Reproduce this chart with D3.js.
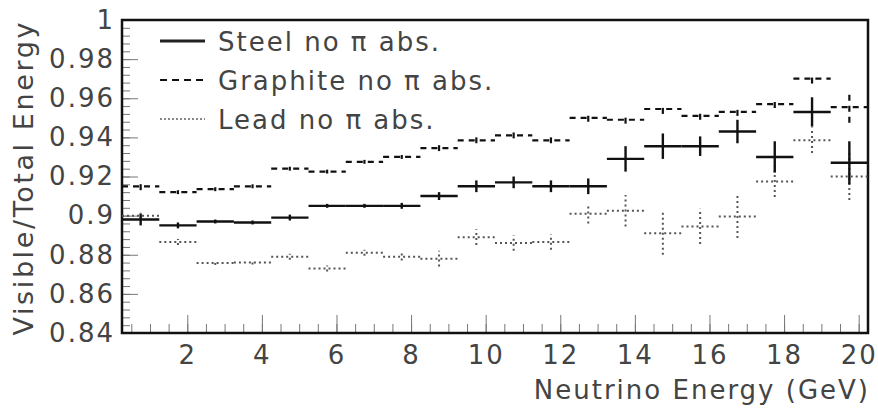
<!DOCTYPE html>
<html>
<head>
<meta charset="utf-8">
<script src="https://cdn.jsdelivr.net/npm/d3@7"></script>
<style>
  body { margin: 0; background: #fff; }
  text { font-family: "DejaVu Sans", sans-serif; fill: #444; }
</style>
</head>
<body>
<div id="chart"></div>
<script>
// bin centres (GeV), bin width 1
const binCenters = [0.75, 1.75, 2.75, 3.75, 4.75, 5.75, 6.75, 7.75, 8.75, 9.75,
                    10.75, 11.75, 12.75, 13.75, 14.75, 15.75, 16.75, 17.75, 18.75, 19.75];

const steel    = [0.898, 0.895, 0.897, 0.8965, 0.899, 0.905, 0.905, 0.905, 0.910, 0.915,
                  0.917, 0.915, 0.915, 0.929, 0.9355, 0.9355, 0.943, 0.930, 0.953, 0.927];
const steelErr = [0.003, 0.0015, 0.001, 0.001, 0.0015, 0.001, 0.001, 0.0015, 0.002, 0.003,
                  0.003, 0.003, 0.004, 0.0065, 0.0065, 0.005, 0.006, 0.008, 0.0075, 0.011];

const graphite    = [0.915, 0.912, 0.9135, 0.915, 0.924, 0.9225, 0.9275, 0.930, 0.9345, 0.9385,
                     0.941, 0.9385, 0.950, 0.949, 0.9545, 0.951, 0.953, 0.957, 0.970, 0.9555];
const graphiteErr = [0.002, 0.001, 0.001, 0.001, 0.001, 0.001, 0.001, 0.001, 0.0015, 0.0015,
                     0.0015, 0.0015, 0.002, 0.002, 0.0025, 0.002, 0.002, 0.002, 0.0025, 0.008];

const lead    = [0.900, 0.8865, 0.8758, 0.876, 0.879, 0.873, 0.881, 0.879, 0.878, 0.889,
                 0.886, 0.8865, 0.901, 0.9025, 0.891, 0.8945, 0.8995, 0.9175, 0.9385, 0.920];
const leadErr = [0.0015, 0.0015, 0.001, 0.001, 0.0015, 0.0015, 0.0015, 0.002, 0.004, 0.004,
                 0.004, 0.004, 0.005, 0.008, 0.011, 0.009, 0.011, 0.008, 0.0065, 0.012];

const legendLabels = ["Steel no \u03c0 abs.", "Graphite no \u03c0 abs.", "Lead no \u03c0 abs."];

const width = 878, height = 411;
const m = {left: 122, right: 868, top: 20, bottom: 333};

const svg = d3.select("#chart").append("svg")
    .attr("width", width)
    .attr("height", height);

const x = d3.scaleLinear().domain([0.25, 20.25]).range([m.left, m.right]);
const y = d3.scaleLinear().domain([0.84, 1]).range([m.bottom, m.top]);

// minor ticks
svg.append("g")
    .attr("transform", `translate(0,${m.bottom})`)
    .call(d3.axisBottom(x).tickValues(d3.range(0.5, 20.25, 0.5)).tickSize(-9).tickFormat(""))
    .call(g => g.select(".domain").remove())
    .call(g => g.selectAll("line").attr("stroke", "#777"));
svg.append("g")
    .attr("transform", `translate(${m.left},0)`)
    .call(d3.axisLeft(y).tickValues(d3.range(0.844, 1.0, 0.004)).tickSize(-8).tickFormat(""))
    .call(g => g.select(".domain").remove())
    .call(g => g.selectAll("line").attr("stroke", "#777"));

// major ticks + labels
const xAxis = svg.append("g")
    .attr("transform", `translate(0,${m.bottom})`)
    .call(d3.axisBottom(x).tickValues(d3.range(2, 21, 2)).tickSize(-18).tickPadding(13).tickFormat(d3.format("d")));
const yAxis = svg.append("g")
    .attr("transform", `translate(${m.left},0)`)
    .call(d3.axisLeft(y).tickValues(d3.range(0.84, 1.001, 0.02)).tickSize(-16).tickPadding(7)
        .tickFormat(d => d >= 0.9999 ? "1" : (Math.abs(d - 0.9) < 1e-6 ? "0.9" : d3.format(".2f")(d))));
[xAxis, yAxis].forEach(a => {
  a.select(".domain").remove();
  a.selectAll("line").attr("stroke", "#777");
  a.selectAll("text").attr("font-size", 26).attr("fill", "#444")
    .attr("letter-spacing", 2)
    .attr("font-family", "'DejaVu Sans', sans-serif");
});

// frame
svg.append("rect")
    .attr("x", m.left).attr("y", m.top)
    .attr("width", m.right - m.left).attr("height", m.bottom - m.top)
    .attr("fill", "none").attr("stroke", "#111").attr("stroke-width", 2.5);

// axis titles
svg.append("text")
    .attr("x", m.right + 2).attr("y", 399)
    .attr("text-anchor", "end")
    .attr("font-size", 26)
    .attr("letter-spacing", 2)
    .text("Neutrino Energy (GeV)");
svg.append("text")
    .attr("transform", `translate(33,${m.top}) rotate(-90)`)
    .attr("text-anchor", "end")
    .attr("font-size", 27)
    .attr("letter-spacing", 2.6)
    .text("Visible/Total Energy");

const series = [
  {vals: lead, errs: leadErr, color: "#555", width: 2, dash: "2,3"},
  {vals: graphite, errs: graphiteErr, color: "#111", width: 2.2, dash: "6,5"},
  {vals: steel, errs: steelErr, color: "#111", width: 2.4, dash: null}
];

series.forEach(s => {
  const g = svg.append("g")
      .attr("stroke", s.color)
      .attr("stroke-width", s.width)
      .attr("stroke-dasharray", s.dash);
  const pts = binCenters.map((c, i) => ({c: c, v: s.vals[i], e: s.errs[i]}));
  g.selectAll(".h").data(pts).join("line")
      .attr("class", "h")
      .attr("x1", d => x(d.c - 0.5))
      .attr("x2", d => x(d.c + 0.5))
      .attr("y1", d => y(d.v))
      .attr("y2", d => y(d.v));
  g.selectAll(".v").data(pts).join("line")
      .attr("class", "v")
      .attr("x1", d => x(d.c))
      .attr("x2", d => x(d.c))
      .attr("y1", d => y(d.v - d.e))
      .attr("y2", d => y(d.v + d.e));
});

// legend
const legend = [
  {label: legendLabels[0], color: "#222", width: 3, dash: null},
  {label: legendLabels[1], color: "#111", width: 2.2, dash: "7,5"},
  {label: legendLabels[2], color: "#888", width: 2, dash: "2,2"}
];
const ly = [41, 80, 119];
legend.forEach((l, i) => {
  svg.append("line")
      .attr("x1", 160).attr("x2", 205)
      .attr("y1", ly[i]).attr("y2", ly[i])
      .attr("stroke", l.color).attr("stroke-width", l.width)
      .attr("stroke-dasharray", l.dash);
  svg.append("text")
      .attr("x", 218).attr("y", ly[i] + 10)
      .attr("font-size", 26)
      .attr("letter-spacing", 2)
      .text(l.label);
});
</script>
</body>
</html>
